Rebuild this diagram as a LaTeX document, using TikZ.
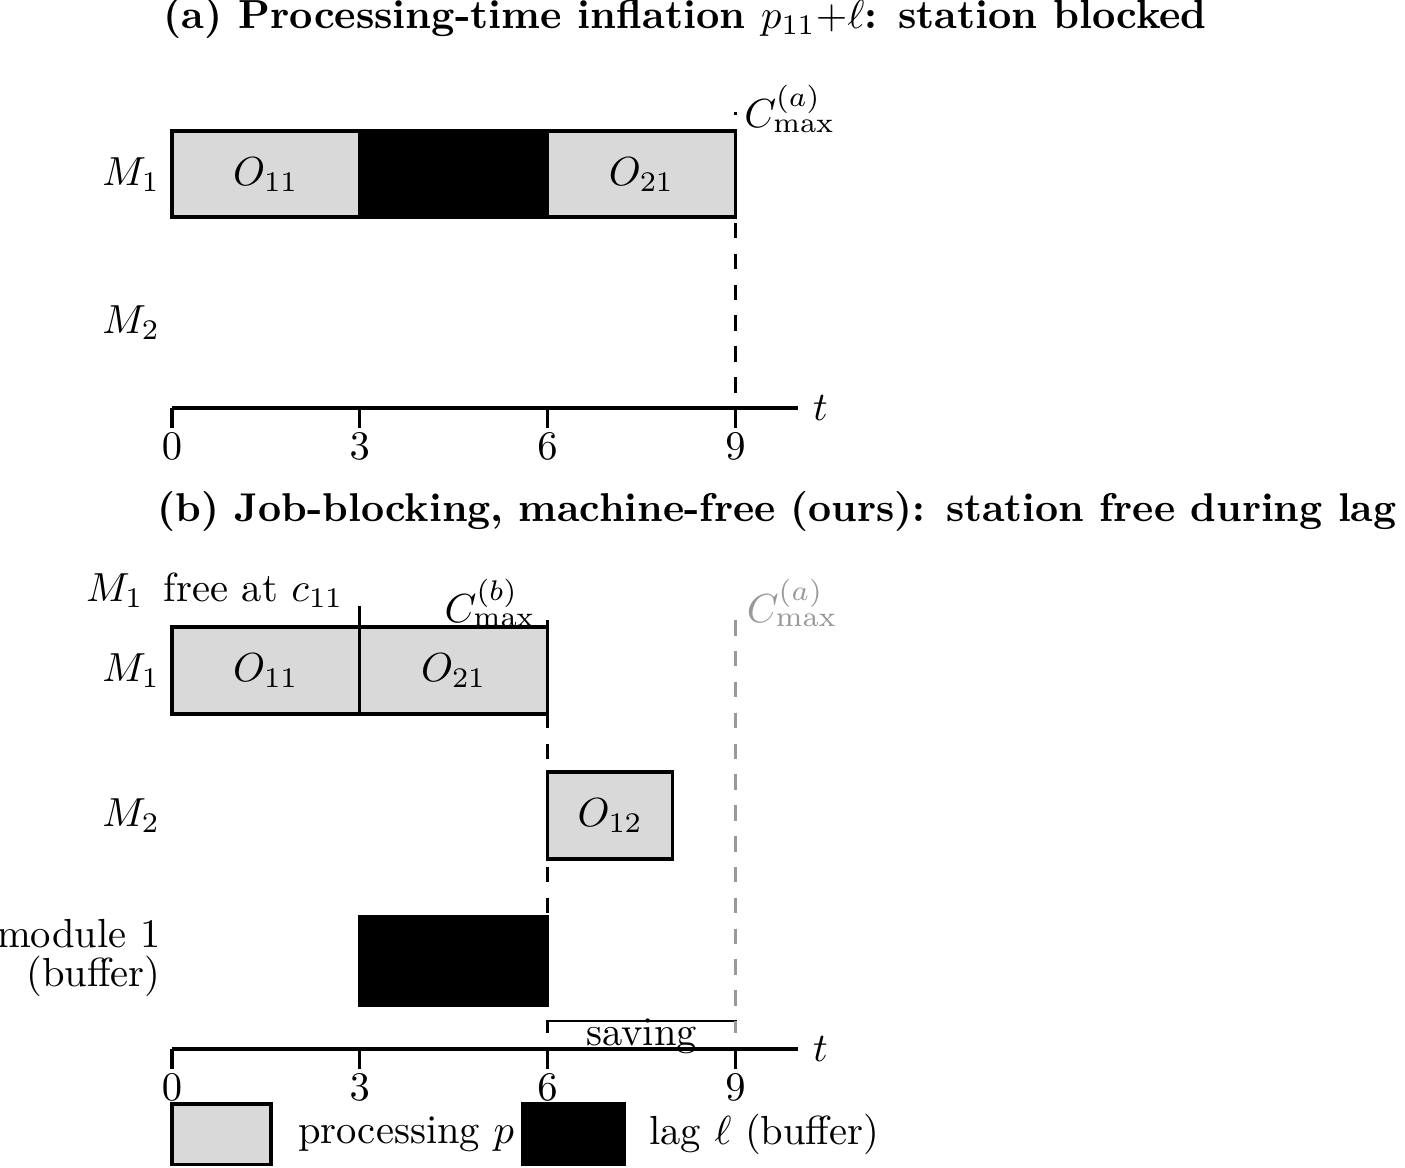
\documentclass[tikz,border=0pt]{standalone}
\usetikzlibrary{positioning}

\begin{document}
\begin{tikzpicture}[
    x=0.542cm, y=0.542cm,
    thick,                       % bars, axes and guides all share this width
    procbar/.style={draw=black, fill=black!15},
    lagbar/.style={draw=black, fill=black},
    cmaxline/.style={dash pattern=on 3.8pt off 3.8pt},
    ghost/.style={black!40},
    rowlabel/.style={anchor=east},
    ticklabel/.style={anchor=north, inner sep=1pt}
]
    \useasboundingbox (-2.748,-1.901) rectangle (19.697,16.757);

    % --- 1. (a) processing-time inflation ---
    \node [anchor=west, font=\bfseries] (title_a) at (-0.375,16.47)
        {(a) Processing-time inflation $p_{11}{+}\ell$: station blocked};

    \begin{scope}[shift={(0,10.24)}]
        % bars of M1
        \draw [procbar] (0,3.05) rectangle (3,4.425);
        \draw [lagbar]  (3,3.05) rectangle (6,4.425);
        \draw [procbar] (6,3.05) rectangle (9,4.425);
        \node (o11_a) at (1.5,3.73) {$O_{11}$};
        \node (o21_a) at (7.5,3.73) {$O_{21}$};

        % row labels
        \node [rowlabel] (m1_a) at (0.05,3.73) {$M_1$};
        \node [rowlabel] (m2_a) at (0.05,1.37) {$M_2$};

        % time axis
        \draw (0,0) -- (10,0) node [right] (t_a) {$t$};
        \foreach \t in {0,3,6,9} {
            \draw (\t,0) -- (\t,-0.32);
            \node [ticklabel] (tick_a\t) at (\t,-0.32) {$\t$};
        }

        % makespan marker (drawn upwards, starting with a gap)
        \coordinate (top_a) at (9,4.73);
        \draw [cmaxline, dash phase=3.8pt] (9,0) -- (top_a);
        \node [anchor=west] (cmax_a) at (8.9,4.78) {$C_{\max}^{(a)}$};
    \end{scope}

    % --- 2. (b) job-blocking, machine-free ---
    \node [anchor=west, font=\bfseries, scale=0.99] (title_b) at (-0.47,8.59)
        {(b) Job-blocking, machine-free (ours): station free during lag};

    % bars
    \draw [procbar] (0,5.35) rectangle (3,6.74);
    \draw [procbar] (3,5.35) rectangle (6,6.74);
    \draw [procbar] (6,3.035) rectangle (8,4.425);
    \draw [lagbar]  (3,0.70) rectangle (6,2.11);
    \node (o11_b) at (1.5,6.05) {$O_{11}$};
    \node (o21_b) at (4.5,6.05) {$O_{21}$};
    \node (o12_b) at (7,3.73) {$O_{12}$};

    % row labels
    \node [rowlabel] (m1_b) at (0.05,6.05) {$M_1$};
    \node [rowlabel] (m2_b) at (0.05,3.73) {$M_2$};
    \node [rowlabel, align=right] (buf_b) at (0.06,1.45) {module 1\\[-2.5pt](buffer)};

    % release of M1 at c11
    \draw (3,6.74) -- (3,7.08) coordinate (c11);
    \node [anchor=east] (free_b) at (2.98,7.33) {$M_1$\enspace free at $c_{11}$};

    % saving bracket
    \draw [line width=0.6pt] (6,0.26) -- (6,0.45) -- (9,0.45) -- (9,0.26);
    \node [anchor=base] (saving) at (7.5,0.06) {saving};

    % makespan markers
    \draw [cmaxline] (6,6.85) -- (6,0.26);
    \draw [cmaxline, ghost] (9,6.85) -- (9,0.26);
    \node [anchor=east] (cmax_b) at (6.05,7.12) {$C_{\max}^{(b)}$};
    \node [anchor=west, ghost] (cmax_ghost) at (8.94,7.12) {$C_{\max}^{(a)}$};

    % time axis
    \draw (0,0) -- (10,0) node [right] (t_b) {$t$};
    \foreach \t in {0,3,6,9} {
        \draw (\t,0) -- (\t,-0.32);
        \node [ticklabel] (tick_b\t) at (\t,-0.32) {$\t$};
    }

    % --- 3. legend ---
    \node [procbar, minimum width=0.856cm, minimum height=0.526cm] (leg_proc) at (0.79,-1.365) {};
    \node [right=0.09cm of leg_proc] (leg_proc_txt) {processing $p$};
    \node [lagbar, minimum width=0.884cm, minimum height=0.526cm] (leg_lag) at (6.41,-1.365) {};
    \node [right=0.07cm of leg_lag] (leg_lag_txt) {lag $\ell$ (buffer)};

\end{tikzpicture}
\end{document}
